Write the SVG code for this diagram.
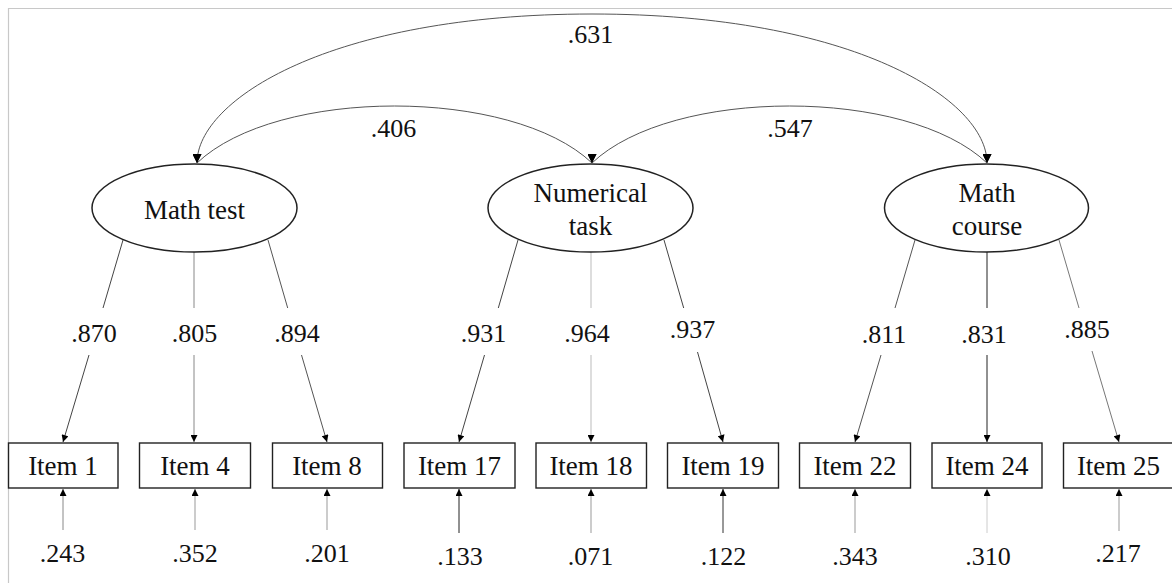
<svg xmlns="http://www.w3.org/2000/svg" width="1172" height="583" viewBox="0 0 1172 583" font-family="'Liberation Serif', 'Times New Roman', Tinos, 'DejaVu Serif', serif">
<style>
text{font-family:'Liberation Serif','Times New Roman',Tinos,'DejaVu Serif',serif;fill:#111;text-anchor:middle}
.lbl{font-size:26px}
.nm{font-size:27px}
.box{fill:#fff;stroke:#222;stroke-width:1.4}
.lat{fill:#fff;stroke:#222;stroke-width:1.5}
.cv{fill:none;stroke:#555;stroke-width:1}
.ld{fill:none;stroke-width:1}
</style>
<defs>
<marker id="ah" viewBox="0 0 10 10" refX="10" refY="5" markerWidth="8" markerHeight="7" markerUnits="userSpaceOnUse" orient="auto"><path d="M0,0 L10,5 L0,10 z" fill="#000"/></marker>
<marker id="dn" viewBox="0 0 10 10" refX="10" refY="5" markerWidth="9" markerHeight="9" markerUnits="userSpaceOnUse" orient="90"><path d="M0,0 L10,5 L0,10 z" fill="#000"/></marker>
</defs>
<rect width="1172" height="583" fill="#fff"/>
<g id="frame" stroke="#c8c8c8" stroke-width="1.2"><line x1="8" y1="8.5" x2="1172" y2="8.5"/><line x1="8.5" y1="8" x2="8.5" y2="583"/></g>
<g id="connectors">
<path class="cv" d="M197,163 C197,100 330,14 592,14 C854,14 987,100 987,163" marker-start="url(#dn)" marker-end="url(#dn)"/>
<path class="cv" d="M197,163 C277,87 512,87 592,163" marker-start="url(#dn)" marker-end="url(#dn)"/>
<path class="cv" d="M592,163 C672,87 907,87 987,163" marker-start="url(#dn)" marker-end="url(#dn)"/>
<g class="ld">
<path d="M123,240 L103,308" stroke="#444"/><path d="M89,355 L63,442" stroke="#444" marker-end="url(#ah)"/>
<path d="M194,252 L194,308" stroke="#888"/><path d="M194,355 L194,442" stroke="#888" marker-end="url(#ah)"/>
<path d="M268,240 L287.7,308" stroke="#555"/><path d="M301.5,355 L327,442" stroke="#555" marker-end="url(#ah)"/>
<path d="M518,240 L498.3,308" stroke="#444"/><path d="M484.5,355 L459,442" stroke="#444" marker-end="url(#ah)"/>
<path d="M591,252 L591,308" stroke="#bbb"/><path d="M591,355 L591,442" stroke="#bbb" marker-end="url(#ah)"/>
<path d="M664,240 L683.7,308" stroke="#444"/><path d="M697.5,352 L723,442" stroke="#444" marker-end="url(#ah)"/>
<path d="M915,240 L895,308" stroke="#555"/><path d="M881,355 L855,442" stroke="#555" marker-end="url(#ah)"/>
<path d="M987,252 L987,308" stroke="#222"/><path d="M987,355 L987,442" stroke="#222" marker-end="url(#ah)"/>
<path d="M1059,240 L1079,308" stroke="#777"/><path d="M1092,351 L1119,442" stroke="#777" marker-end="url(#ah)"/>
<path d="M63,530 L63,489" stroke="#888" marker-end="url(#ah)"/>
<path d="M195,530 L195,489" stroke="#999" marker-end="url(#ah)"/>
<path d="M327,530 L327,489" stroke="#999" marker-end="url(#ah)"/>
<path d="M459,533 L459,489" stroke="#222" marker-end="url(#ah)"/>
<path d="M591,533 L591,489" stroke="#999" marker-end="url(#ah)"/>
<path d="M723,533 L723,489" stroke="#333" marker-end="url(#ah)"/>
<path d="M855,533 L855,489" stroke="#999" marker-end="url(#ah)"/>
<path d="M987,533 L987,489" stroke="#ccc" marker-end="url(#ah)"/>
<path d="M1119,531 L1119,489" stroke="#999" marker-end="url(#ah)"/>
</g>
</g>
<g id="labels" class="lbl">
<text x="590.5" y="43">.631</text>
<text x="393.5" y="137">.406</text>
<text x="790" y="137">.547</text>
<text x="94" y="342">.870</text>
<text x="194.5" y="342">.805</text>
<text x="297" y="342">.894</text>
<text x="483.5" y="342">.931</text>
<text x="587" y="342">.964</text>
<text x="692.5" y="338">.937</text>
<text x="884" y="343">.811</text>
<text x="984" y="343">.831</text>
<text x="1087" y="338">.885</text>
<text x="62.5" y="562">.243</text>
<text x="195" y="562">.352</text>
<text x="327" y="562">.201</text>
<text x="460" y="565">.133</text>
<text x="590.5" y="565">.071</text>
<text x="723.5" y="565">.122</text>
<text x="855" y="565">.343</text>
<text x="988" y="565">.310</text>
<text x="1118" y="562">.217</text>
</g>
<g id="math-test"><ellipse class="lat" cx="194.5" cy="208" rx="102.5" ry="44"/><text class="nm" x="194.5" y="219">Math test</text></g>
<g id="numerical-task"><ellipse class="lat" cx="590.5" cy="208" rx="102.5" ry="44"/><text class="nm" x="590.5" y="202">Numerical</text><text class="nm" x="590.5" y="235">task</text></g>
<g id="math-course"><ellipse class="lat" cx="986.5" cy="208" rx="102" ry="44"/><text class="nm" x="987" y="202">Math</text><text class="nm" x="987" y="235">course</text></g>
<g id="item1"><rect class="box" x="8.5" y="443" width="109.5" height="45"/><text class="nm" x="63" y="475">Item 1</text></g>
<g id="item4"><rect class="box" x="139.5" y="443" width="111" height="45"/><text class="nm" x="195" y="475">Item 4</text></g>
<g id="item8"><rect class="box" x="272.5" y="443" width="110" height="45"/><text class="nm" x="327" y="475">Item 8</text></g>
<g id="item17"><rect class="box" x="404" y="443" width="111" height="45"/><text class="nm" x="459.5" y="475">Item 17</text></g>
<g id="item18"><rect class="box" x="536" y="443" width="110.5" height="45"/><text class="nm" x="591" y="475">Item 18</text></g>
<g id="item19"><rect class="box" x="667.5" y="443" width="111" height="45"/><text class="nm" x="723" y="475">Item 19</text></g>
<g id="item22"><rect class="box" x="799.5" y="443" width="111" height="45"/><text class="nm" x="855" y="475">Item 22</text></g>
<g id="item24"><rect class="box" x="932" y="443" width="110" height="45"/><text class="nm" x="987" y="475">Item 24</text></g>
<g id="item25"><rect class="box" x="1063.5" y="443" width="110" height="45"/><text class="nm" x="1118.5" y="475">Item 25</text></g>
</svg>
